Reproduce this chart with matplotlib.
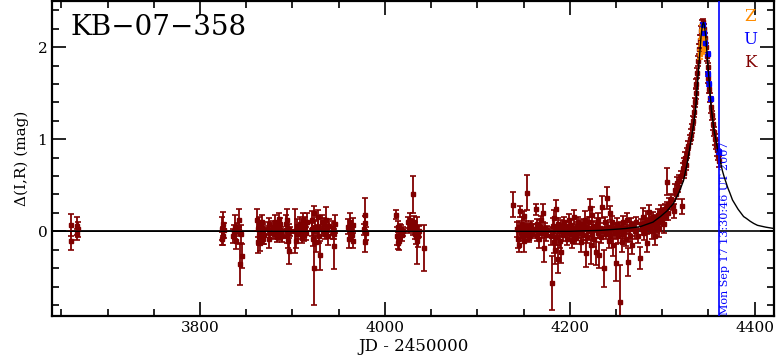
import numpy as np
import matplotlib
matplotlib.use("Agg")
import matplotlib.pyplot as plt
from matplotlib.ticker import MultipleLocator

plt.rcParams['font.family'] = ['DejaVu Serif']

event = "KB\u221207\u2212358"
stamp = "Mon Sep 17 13:30:46 UT 2007"
now_jd = 4361.06

# K data: rows of (JD-2450000, delta mag, error)
k_2006a = [
    (3660, 0.07, 0.12), (3660, -0.10, 0.10), (3667, 0.06, 0.10), (3668, 0.02, 0.08), (3667, -0.03, 0.06),
]
k_2006b = [
    (3824, 0.03, 0.12), (3825, -0.05, 0.10), (3825, 0.08, 0.13), (3826, 0.01, 0.08), (3824, -0.08, 0.07),
    (3836, -0.05, 0.08), (3837, 0.00, 0.07), (3838, 0.05, 0.13), (3839, -0.10, 0.09), (3840, 0.03, 0.06),
    (3843, -0.36, 0.22), (3842, 0.12, 0.12), (3845, -0.27, 0.13), (3844, -0.03, 0.10), (3842, 0.00, 0.05),
    (3862, 0.12, 0.12), (3863, -0.12, 0.12), (3863, 0.02, 0.08), (3864, -0.05, 0.10), (3864, 0.08, 0.07),
    (3865, -0.13, 0.08), (3866, 0.05, 0.06), (3866, -0.02, 0.07), (3867, 0.10, 0.08), (3868, -0.08, 0.06),
    (3868, 0.03, 0.05), (3869, -0.04, 0.10), (3874, 0.03, 0.07), (3875, -0.08, 0.10), (3875, 0.08, 0.06),
    (3876, -0.02, 0.05), (3879, 0.05, 0.06), (3880, -0.03, 0.05), (3881, 0.10, 0.08), (3882, 0.00, 0.04),
    (3883, -0.06, 0.06), (3884, 0.06, 0.05), (3885, 0.02, 0.04), (3886, -0.04, 0.05), (3887, 0.08, 0.06),
    (3888, 0.00, 0.05), (3889, -0.05, 0.07), (3885, 0.13, 0.07), (3893, 0.08, 0.10), (3894, -0.05, 0.08),
    (3894, 0.12, 0.12), (3896, -0.21, 0.14), (3896, 0.02, 0.06), (3895, -0.10, 0.08), (3897, 0.00, 0.05),
    (3903, 0.00, 0.24), (3904, -0.10, 0.08), (3905, 0.06, 0.07), (3906, -0.03, 0.05), (3908, 0.08, 0.08),
    (3909, 0.00, 0.05), (3910, -0.07, 0.06), (3911, 0.12, 0.08), (3912, 0.03, 0.05), (3913, -0.04, 0.06),
    (3914, 0.06, 0.10), (3915, -0.02, 0.07), (3916, 0.10, 0.10), (3923, -0.40, 0.40), (3923, 0.20, 0.08),
    (3921, 0.02, 0.07), (3922, -0.08, 0.08), (3924, 0.05, 0.06), (3925, -0.12, 0.10), (3921, 0.12, 0.10),
    (3928, 0.05, 0.10), (3929, -0.05, 0.08), (3930, -0.26, 0.16), (3928, 0.15, 0.08), (3932, 0.10, 0.08),
    (3933, 0.00, 0.05), (3934, 0.08, 0.06), (3935, -0.03, 0.05), (3936, 0.12, 0.14), (3937, 0.02, 0.06),
    (3938, -0.05, 0.10), (3939, 0.06, 0.07), (3944, 0.04, 0.07), (3945, -0.03, 0.05), (3946, 0.08, 0.10),
    (3945, -0.16, 0.25), (3944, -0.02, 0.06), (3960, 0.05, 0.08), (3961, -0.08, 0.10), (3962, 0.10, 0.10),
    (3963, 0.00, 0.05), (3964, -0.04, 0.06), (3965, 0.07, 0.07), (3965, -0.10, 0.08), (3978, 0.18, 0.18),
    (3978, 0.09, 0.08), (3977, 0.02, 0.06), (3978, -0.12, 0.10), (3979, -0.02, 0.07), (4012, 0.18, 0.05),
    (4013, -0.05, 0.10), (4014, 0.05, 0.06), (4015, -0.10, 0.10), (4016, 0.00, 0.08), (4017, 0.02, 0.05),
    (4019, -0.04, 0.06), (4020, 0.00, 0.05), (4014, -0.13, 0.06), (4025, 0.10, 0.06), (4026, 0.03, 0.05),
    (4027, 0.12, 0.08), (4028, 0.05, 0.05), (4029, 0.08, 0.04), (4030, 0.40, 0.20), (4030, 0.02, 0.06),
    (4031, 0.10, 0.07), (4032, -0.03, 0.05), (4033, 0.06, 0.04), (4034, -0.06, 0.08), (4035, -0.10, 0.25),
    (4036, -0.05, 0.12), (4037, 0.00, 0.06), (4042, -0.18, 0.25),
]
k_2007 = [
    (4139, 0.29, 0.14), (4143, 0.02, 0.08), (4144, -0.08, 0.10), (4145, 0.05, 0.06), (4145.5, -0.15, 0.08),
    (4146, 0.22, 0.06), (4147, -0.02, 0.05), (4148, 0.08, 0.07), (4148.5, -0.05, 0.05), (4149, 0.03, 0.04),
    (4150, -0.10, 0.12), (4150.5, 0.17, 0.05), (4151, 0.00, 0.05), (4152, -0.04, 0.07), (4153, 0.06, 0.05),
    (4154, 0.42, 0.19), (4154.5, -0.02, 0.06), (4155, 0.04, 0.04), (4156, -0.07, 0.05), (4157, 0.01, 0.08),
    (4158, 0.06, 0.05), (4159, -0.03, 0.04), (4160, 0.02, 0.06), (4163, 0.24, 0.06), (4163.5, 0.03, 0.05),
    (4164, -0.05, 0.06), (4165, 0.08, 0.05), (4166, 0.00, 0.04), (4167, -0.08, 0.10), (4168, 0.05, 0.07),
    (4169, 0.12, 0.05), (4170, -0.02, 0.05), (4171, 0.20, 0.10), (4172, -0.18, 0.15), (4173, 0.04, 0.05),
    (4174, -0.04, 0.06), (4175, 0.01, 0.05), (4180, -0.05, 0.10), (4181, -0.56, 0.29), (4182, 0.06, 0.08),
    (4182.5, -0.12, 0.12), (4183, 0.14, 0.09), (4184, 0.02, 0.05), (4184.5, -0.20, 0.15), (4185, 0.24, 0.10),
    (4186, -0.06, 0.09), (4187, 0.08, 0.06), (4187.5, -0.30, 0.15), (4188, 0.00, 0.05), (4189, -0.10, 0.08),
    (4190, 0.05, 0.07), (4191, -0.22, 0.12), (4192, 0.03, 0.05), (4193, -0.04, 0.06), (4194, 0.10, 0.06),
    (4195, -0.01, 0.04), (4196, 0.06, 0.05), (4197, -0.08, 0.07), (4198, 0.02, 0.04), (4199, 0.12, 0.07),
    (4200, -0.03, 0.05), (4201, 0.07, 0.05), (4202, -0.10, 0.08), (4203, 0.04, 0.04), (4204, -0.05, 0.06),
    (4205, 0.15, 0.08), (4206, 0.00, 0.05), (4207, -0.07, 0.07), (4208, 0.05, 0.05), (4209, 0.10, 0.06),
    (4210, -0.02, 0.05), (4211, 0.03, 0.04), (4212, -0.12, 0.10), (4213, 0.08, 0.05), (4214, -0.04, 0.05),
    (4215, 0.02, 0.06), (4216, 0.12, 0.10), (4217, -0.24, 0.15), (4218, 0.05, 0.05), (4219, -0.06, 0.07),
    (4220, 0.00, 0.05), (4221, 0.10, 0.06), (4222, 0.25, 0.10), (4223, -0.15, 0.20), (4223.5, 0.18, 0.08),
    (4224, -0.03, 0.06), (4225, 0.06, 0.05), (4226, -0.08, 0.09), (4227, 0.03, 0.04), (4228, -0.22, 0.15),
    (4229, 0.08, 0.06), (4230, -0.02, 0.05), (4231, 0.12, 0.08), (4232, -0.26, 0.14), (4233, 0.04, 0.05),
    (4234, -0.06, 0.07), (4235, 0.26, 0.12), (4236, 0.00, 0.05), (4237, -0.40, 0.20), (4238, 0.10, 0.06),
    (4239, -0.03, 0.05), (4240, 0.36, 0.12), (4241, 0.05, 0.05), (4242, -0.10, 0.08), (4243, 0.20, 0.08),
    (4244, -0.05, 0.06), (4245, 0.02, 0.04), (4246, 0.10, 0.07), (4247, -0.15, 0.12), (4248, 0.04, 0.05),
    (4249, -0.02, 0.06), (4250, -0.34, 0.20), (4251, 0.08, 0.06), (4252, -0.05, 0.08), (4253, 0.00, 0.05),
    (4254, -0.77, 0.40), (4255, 0.05, 0.05), (4256, -0.12, 0.10), (4257, 0.10, 0.07), (4258, -0.03, 0.05),
    (4260, 0.04, 0.06), (4261, -0.08, 0.08), (4262, 0.12, 0.08), (4263, -0.33, 0.15), (4264, 0.02, 0.05),
    (4265, -0.05, 0.07), (4266, 0.08, 0.06), (4267, -0.15, 0.10), (4268, 0.05, 0.05), (4270, 0.00, 0.08),
    (4272, 0.10, 0.06), (4274, -0.05, 0.08), (4276, -0.29, 0.12), (4277, 0.08, 0.05), (4278, 0.02, 0.06),
    (4279, 0.15, 0.10), (4280, -0.02, 0.07), (4281, 0.05, 0.05), (4282, 0.10, 0.12), (4284, -0.13, 0.10),
    (4285, 0.08, 0.06), (4286, 0.21, 0.08), (4287, 0.04, 0.06), (4288, 0.12, 0.05), (4289, 0.00, 0.08),
    (4290, 0.15, 0.06), (4291, 0.08, 0.05), (4292, -0.05, 0.10), (4293, 0.13, 0.05), (4294, 0.05, 0.07),
    (4295, 0.18, 0.06), (4296, 0.10, 0.05), (4297, 0.02, 0.08), (4298, 0.16, 0.05), (4299, 0.22, 0.07),
    (4300, 0.12, 0.06), (4301, 0.20, 0.05), (4302, 0.08, 0.10), (4303, 0.24, 0.06), (4304, 0.17, 0.05),
    (4305, 0.54, 0.15), (4305.5, 0.26, 0.06), (4306, 0.20, 0.08), (4307, 0.30, 0.06),
]
k_event = [
    (4310, 0.35, 0.06), (4312, 0.28, 0.05), (4313, 0.22, 0.08), (4314, 0.45, 0.06), (4315, 0.40, 0.05),
    (4316, 0.52, 0.07), (4317, 0.48, 0.05), (4318, 0.55, 0.06), (4320, 0.60, 0.05), (4321, 0.27, 0.08),
    (4322, 0.68, 0.06), (4323, 0.63, 0.05), (4324, 0.75, 0.05), (4325, 0.80, 0.06), (4326, 0.72, 0.05),
    (4327, 0.85, 0.05), (4328, 0.93, 0.05), (4330, 1.00, 0.05), (4331, 1.05, 0.06), (4332, 1.12, 0.05),
    (4333, 1.20, 0.05), (4334, 1.30, 0.06), (4335, 1.40, 0.05), (4336, 1.50, 0.06), (4337, 1.60, 0.05),
    (4338, 1.72, 0.05), (4339, 1.85, 0.05), (4340, 1.98, 0.05), (4341, 2.08, 0.05), (4342, 2.18, 0.05),
    (4343, 2.25, 0.04), (4344, 2.27, 0.04), (4345, 2.20, 0.05), (4346, 2.10, 0.05), (4347, 2.00, 0.05),
    (4348, 1.90, 0.05), (4349, 1.78, 0.05), (4350, 1.66, 0.05), (4351, 1.55, 0.05), (4352, 1.45, 0.05),
    (4353, 1.35, 0.06), (4354, 1.26, 0.05), (4355, 1.16, 0.06), (4356, 1.08, 0.05), (4357, 1.00, 0.06),
    (4358, 0.94, 0.05), (4359, 0.88, 0.06), (4360, 0.82, 0.05), (4361, 0.76, 0.06),
]
z_data = [
    (4341, 1.92, 0.05), (4342, 2.05, 0.04), (4342.5, 2.15, 0.04), (4343, 2.20, 0.04),
    (4344, 2.18, 0.04), (4345, 2.08, 0.05), (4345.5, 1.98, 0.05),
]
u_data = [
    (4344.5, 2.24, 0.02), (4345.5, 2.15, 0.02), (4346.5, 2.05, 0.02), (4349, 1.93, 0.02),
    (4350, 1.71, 0.02), (4351, 1.60, 0.02), (4353, 1.44, 0.02), (4361.5, 0.86, 0.02),
]

# model curve
model_t = [3640, 4200, 4233, 4260, 4276, 4290, 4298, 4305, 4312, 4318, 4323, 4327, 4330, 4333, 4336,
           4339.5, 4342, 4343.5, 4344.5, 4345.5, 4347, 4349.5, 4353, 4356, 4359, 4361, 4363, 4365,
           4367, 4369, 4371, 4373, 4376, 4379, 4382, 4385, 4388, 4391, 4395, 4399, 4403, 4412, 4421]
model_m = [0.0, 0.0, 0.01, 0.03, 0.05, 0.10, 0.16, 0.22, 0.30, 0.42, 0.55, 0.74, 0.92, 1.10, 1.32,
           1.79, 2.12, 2.24, 2.27, 2.24, 2.12, 1.79, 1.34, 1.10, 0.94, 0.85, 0.75, 0.66,
           0.59, 0.53, 0.47, 0.42, 0.34, 0.29, 0.24, 0.20, 0.16, 0.14, 0.11, 0.085, 0.065, 0.045, 0.03]

kcol = '#800000'
zcol = '#ff8c00'
ucol = '#0000ff'

fig = plt.figure(figsize=(7.78, 3.62), dpi=100)
ax = fig.add_axes([0.067, 0.127, 0.928, 0.870])

ax.axhline(0, color='black', lw=1.2, zorder=1)
ax.plot(model_t, model_m, color='black', lw=1.0, zorder=4)

def draw(rows, col, z):
    a = np.array(rows)
    ax.errorbar(a[:, 0], a[:, 1], yerr=a[:, 2], fmt='s', ms=3, color=col, ecolor=col,
                elinewidth=1.3, capsize=2, capthick=1.2, zorder=z)

draw(k_2006a + k_2006b + k_2007 + k_event, kcol, 2)
draw(z_data, zcol, 3)
draw(u_data, ucol, 3)

ax.axvline(now_jd, color=ucol, lw=1.2, zorder=5)
ax.text(now_jd + 1.5, -0.91, stamp, rotation=90, color=ucol, fontsize=8,
        ha='left', va='bottom')

ax.text(0.025, 0.96, event, transform=ax.transAxes, fontsize=20, ha='left', va='top')
for i, (lab, c) in enumerate([('Z', zcol), ('U', ucol), ('K', kcol)]):
    ax.text(0.967, 0.977 - i * 0.073, lab, transform=ax.transAxes, color=c,
            fontsize=12, ha='center', va='top')

ax.set_xlim(3640, 4421)
ax.set_ylim(-0.92, 2.5)
ax.xaxis.set_major_locator(MultipleLocator(200))
ax.xaxis.set_minor_locator(MultipleLocator(50))
ax.yaxis.set_major_locator(MultipleLocator(1))
ax.yaxis.set_minor_locator(MultipleLocator(0.2))
ax.tick_params(which='both', direction='in', top=True, right=True, labelsize=11, width=1.2)
ax.tick_params(which='major', length=10)
ax.tick_params(which='minor', length=5)
for s in ax.spines.values():
    s.set_linewidth(1.6)

ax.set_xlabel('JD - 2450000', fontsize=12, labelpad=2)
ax.set_ylabel('\u0394(I,R) (mag)', fontsize=11, labelpad=6)

fig.savefig('out.png', dpi=100)
